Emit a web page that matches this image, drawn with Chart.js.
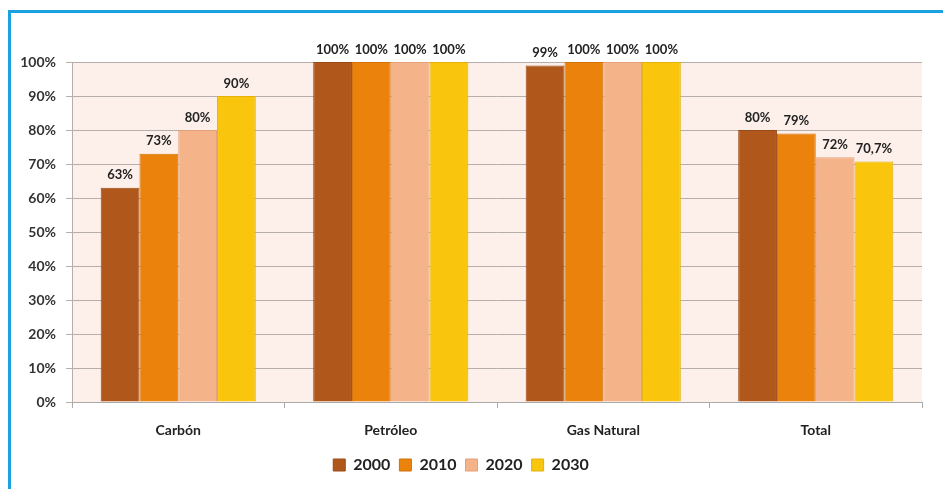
<!DOCTYPE html>
<html>
<head>
<meta charset="utf-8">
<script src="https://cdn.jsdelivr.net/npm/chart.js@4"></script>
<style>
body{margin:0;background:#fff;}
#wrap{position:relative;width:943px;height:489px;}
#frame{position:absolute;left:8px;top:10px;right:0;bottom:0;border-top:3px solid #1ba1e2;border-left:3px solid #1ba1e2;pointer-events:none;}
</style>
</head>
<body>
<div id="wrap">
<canvas id="chart" width="943" height="489"></canvas>
<div id="frame"></div>
</div>
<script>
let categories = ["Carbón","Petróleo","Gas Natural","Total"];
let years = ["2000","2010","2020","2030"];
let v2000 = [63,100,99,80];
let v2010 = [73,100,100,79];
let v2020 = [80,100,100,72];
let v2030 = [90,100,100,70.7];
let yTicks = [0,10,20,30,40,50,60,70,80,90,100];

let colors = ["#b0581b","#eb820b","#f5b38a","#f9c60d"];
let edges = ["#9a4a14","#d2730a","#e4a078","#e3b20a"];
let series = [v2000,v2010,v2020,v2030];

let bgPlugin = {
id:"plotBg",
beforeDraw(chart){
let a = chart.chartArea, ctx = chart.ctx;
ctx.save();
ctx.fillStyle = "#fdefe9";
ctx.fillRect(a.left, a.top, a.right-a.left, a.bottom-a.top);
ctx.restore();
}
};

let labelPlugin = {
id:"barLabels",
afterDatasetsDraw(chart){
let ctx = chart.ctx;
ctx.save();
ctx.font = "bold 13px Lato";
ctx.fillStyle = "#222";
ctx.textAlign = "center";
ctx.textBaseline = "bottom";
chart.data.datasets.forEach((ds,i)=>{
chart.getDatasetMeta(i).data.forEach((bar,j)=>{
let txt = String(ds.data[j]).replace(".",",") + "%";
ctx.fillText(txt, bar.x, bar.y-6);
});
});
ctx.restore();
}
};

new Chart(document.getElementById("chart"), {
type:"bar",
data:{
labels:categories,
datasets: years.map((y,i)=>({
label:y,
data:series[i],
backgroundColor:colors[i],
borderColor:edges[i],
borderWidth:1,
categoryPercentage:0.73,
barPercentage:1
}))
},
options:{
responsive:false,
animation:false,
layout:{padding:{top:62,right:21,bottom:6,left:0}},
plugins:{
tooltip:{enabled:false},
legend:{
position:"bottom",
labels:{
font:{family:"Lato",size:16,weight:"bold"},
color:"#222",
boxWidth:12,
boxHeight:12,
padding:9
}
}
},
scales:{
x:{
grid:{drawOnChartArea:false,color:"#aaa",tickLength:6,offset:true},
border:{color:"#aaa"},
ticks:{font:{family:"Lato",size:14,weight:"bold"},color:"#222",padding:14},
afterFit(s){ s.height = 46; }
},
y:{
min:0,
max:100,
afterBuildTicks(s){ s.ticks = yTicks.map(v=>({value:v})); },
grid:{color:"#b5aeab",tickLength:6},
border:{color:"#b5aeab"},
ticks:{
font:{family:"Lato",size:14,weight:"bold"},
color:"#333",
padding:10,
callback:v=>v+"%"
},
afterFit(s){ s.width = 72; }
}
}
},
plugins:[bgPlugin,labelPlugin]
});
</script>
</body>
</html>
